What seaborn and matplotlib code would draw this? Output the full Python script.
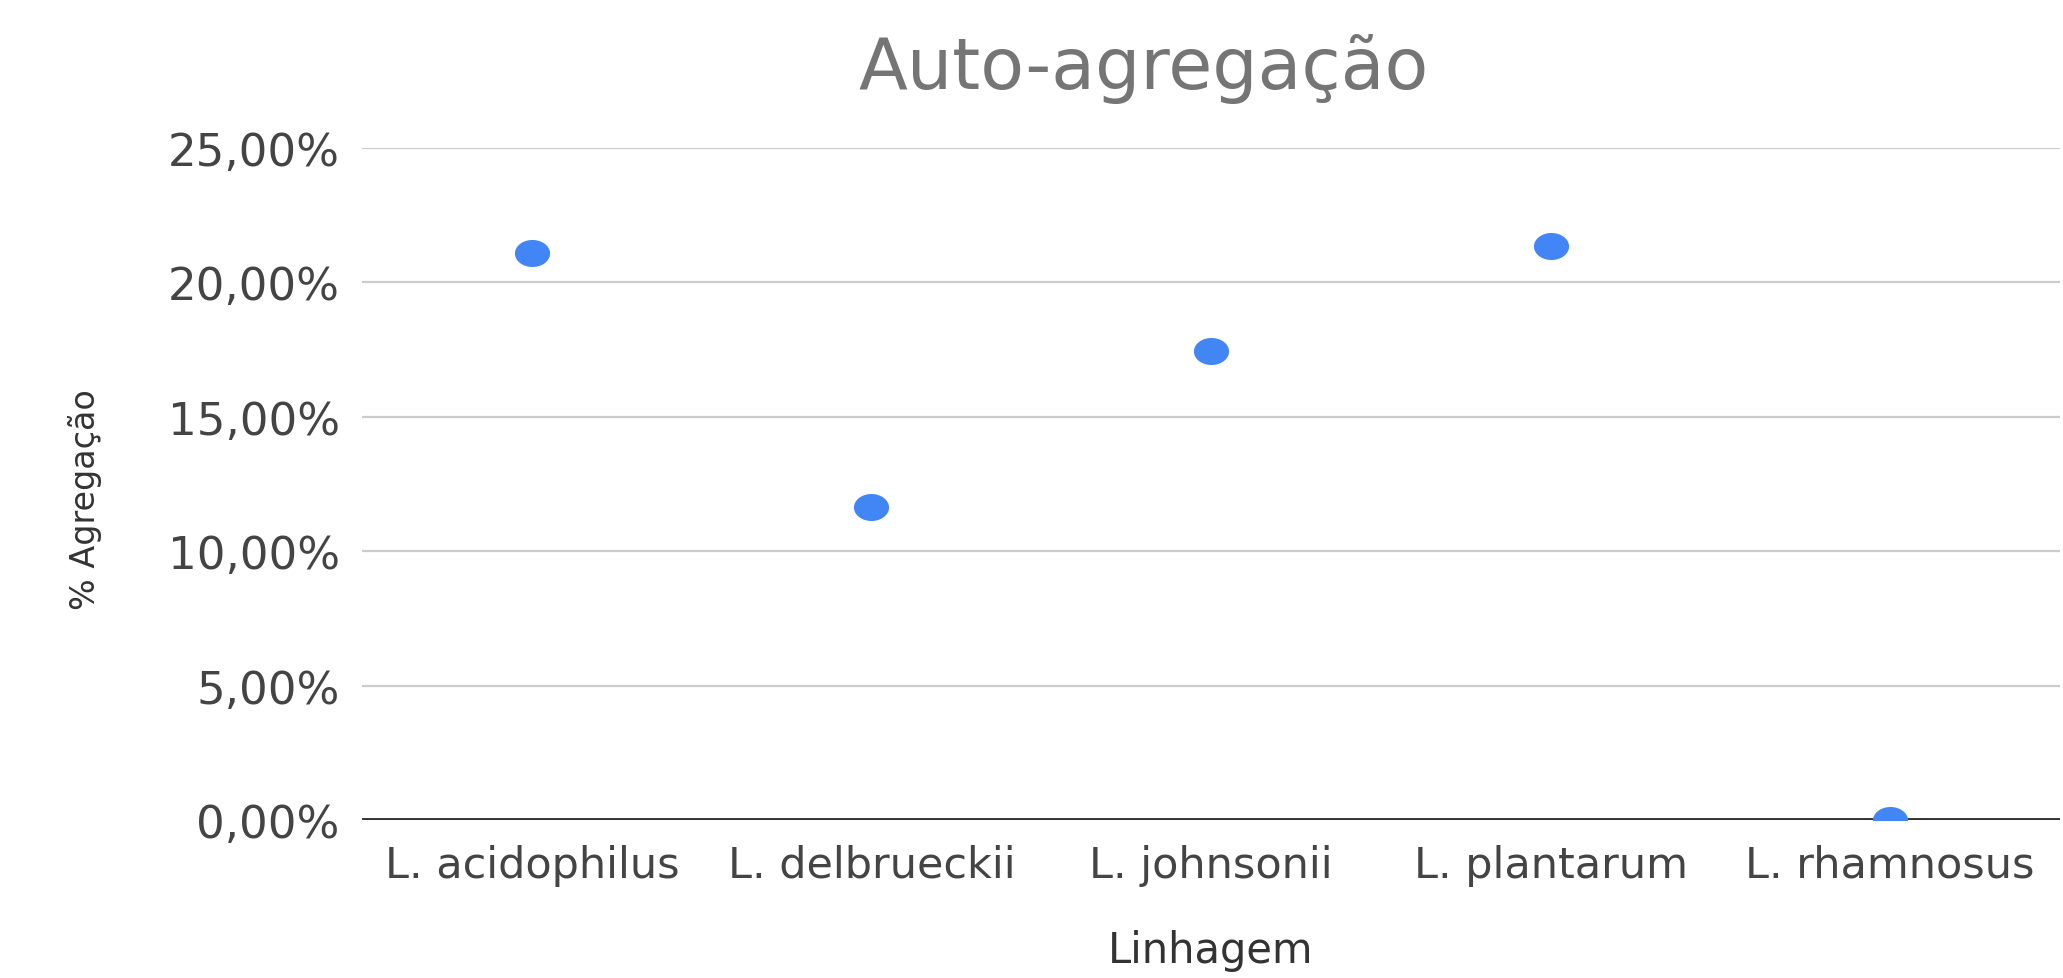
"""  Auto-agregação das linhagens - gráfico de pontos  """
import matplotlib
matplotlib.use('Agg')
import matplotlib.pyplot as plt
import matplotlib.path as mpath
import numpy as np
import pandas as pd
import seaborn as sns

# ~~~~~~~~~  Dados  ~~~~~~~~~ #
linhagens = ['L. acidophilus', 'L. delbrueckii', 'L. johnsonii', 'L. plantarum', 'L. rhamnosus']
agregacao = [21.08, 11.64, 17.46, 21.33, 0.0]  # % agregação
y_ticks = [0, 5, 10, 15, 20, 25]
y_tick_labels = ['0,00%', '5,00%', '10,00%', '15,00%', '20,00%', '25,00%']

df = pd.DataFrame({'Linhagem': linhagens, 'Agregacao': agregacao})

# ~~~~~~~~~  Estilo  ~~~~~~~~~ #
sns.set_style('white')
plt.rcParams['font.family'] = ['DejaVu Sans']

fig = plt.figure(figsize=(20.63, 9.79), dpi=100)
axes = fig.add_axes([0.1755, 0.1614, 0.823, 0.6866])

# marcador levemente achatado (imagem original esticada na horizontal)
theta = np.linspace(0, 2 * np.pi, 60)
oval = mpath.Path(np.column_stack([1.3 * np.cos(theta), np.sin(theta)]))

sns.scatterplot(data=df, x='Linhagem', y='Agregacao', ax=axes, color='#4285F4',
                marker=oval, s=640, linewidth=0, zorder=3)

axes.set_xlim(-0.5, len(linhagens) - 0.5)
axes.set_ylim(0, 25)
axes.set_yticks(y_ticks)
axes.set_yticklabels(y_tick_labels)

# grade horizontal
axes.grid(axis='y', color='#cccccc', linewidth=1.6)
axes.grid(axis='x', visible=False)
axes.axhline(0, color='#333333', linewidth=2.8, zorder=2)
for side in ['top', 'right', 'left', 'bottom']:
    axes.spines[side].set_visible(False)

axes.tick_params(axis='both', length=0, labelcolor='#444444')
axes.tick_params(axis='x', labelsize=31, pad=17)
axes.tick_params(axis='y', labelsize=32.5, pad=16)

axes.set_title('Auto-agregação', fontsize=51.5, color='#757575', pad=43, x=0.46)
axes.set_xlabel('Linhagem', fontsize=30, color='#333333', labelpad=31)
axes.set_ylabel('% Agregação', fontsize=24, color='#333333')
axes.yaxis.set_label_coords(-0.153, 0.478)

fig.savefig('out.png', dpi=100)
